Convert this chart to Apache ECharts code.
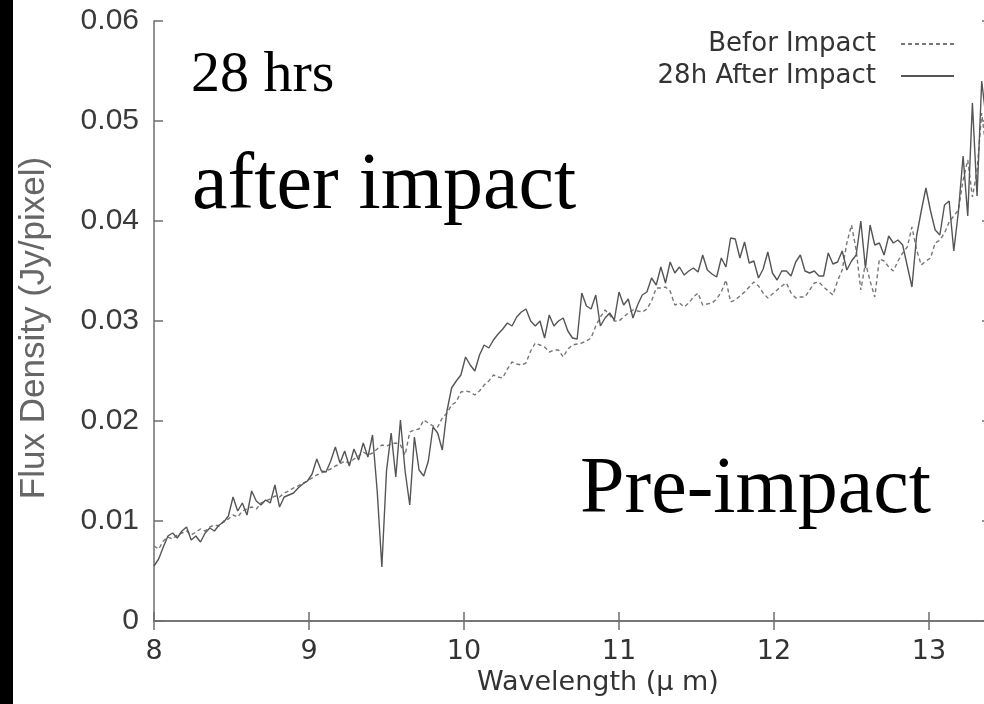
<!DOCTYPE html>
<html>
<head>
<meta charset="utf-8">
<script src="https://cdn.jsdelivr.net/npm/echarts@6/dist/echarts.min.js"></script>
<style>
html,body{margin:0;padding:0;background:#fff;}
#chart{width:984px;height:704px;}
</style>
</head>
<body>
<div id="chart"></div>
<script>
const wavelength = [8.00,8.03,8.06,8.09,8.12,8.15,8.18,8.21,8.24,8.27,8.30,8.33,8.36,8.39,8.42,8.45,8.48,8.51,8.54,8.57,
8.60,8.63,8.66,8.69,8.72,8.75,8.78,8.81,8.84,8.87,8.90,8.93,8.96,8.99,9.02,9.05,9.08,9.11,9.14,9.17,
9.20,9.23,9.26,9.29,9.32,9.35,9.38,9.41,9.44,9.47,9.50,9.53,9.56,9.59,9.62,9.65,9.68,9.71,9.74,9.77,
9.80,9.83,9.86,9.89,9.92,9.95,9.98,10.01,10.04,10.07,10.10,10.13,10.16,10.19,10.22,10.25,10.28,10.31,10.34,10.37,
10.40,10.43,10.46,10.49,10.52,10.55,10.58,10.61,10.64,10.67,10.70,10.73,10.76,10.79,10.82,10.85,10.88,10.91,10.94,10.97,
11.00,11.03,11.06,11.09,11.12,11.15,11.18,11.21,11.24,11.27,11.30,11.33,11.36,11.39,11.42,11.45,11.48,11.51,11.54,11.57,
11.60,11.63,11.66,11.69,11.72,11.75,11.78,11.81,11.84,11.87,11.90,11.93,11.96,11.99,12.02,12.05,12.08,12.11,12.14,12.17,
12.20,12.23,12.26,12.29,12.32,12.35,12.38,12.41,12.44,12.47,12.50,12.53,12.56,12.59,12.62,12.65,12.68,12.71,12.74,12.77,
12.80,12.83,12.86,12.89,12.92,12.95,12.98,13.01,13.04,13.07,13.10,13.13,13.16,13.19,13.22,13.25,13.28,13.31,13.34,13.37,
13.40];

const afterImpact = [0.0055,0.0062,0.0074,0.0085,0.0088,0.0083,0.0090,0.0094,0.0081,0.0085,0.0079,0.0088,0.0093,0.0090,0.0096,0.0099,0.0105,0.0124,0.0110,0.0118,
0.0106,0.0130,0.0120,0.0116,0.0121,0.0118,0.0136,0.0114,0.0124,0.0126,0.0128,0.0133,0.0137,0.0140,0.0147,0.0162,0.0150,0.0149,0.0160,0.0174,
0.0158,0.0170,0.0155,0.0172,0.0161,0.0178,0.0164,0.0186,0.0130,0.0054,0.0150,0.0188,0.0144,0.0201,0.0150,0.0116,0.0184,0.0151,0.0145,0.0160,
0.0194,0.0188,0.0171,0.0210,0.0233,0.0240,0.0246,0.0264,0.0256,0.0250,0.0266,0.0276,0.0273,0.0281,0.0287,0.0292,0.0298,0.0295,0.0304,0.0309,
0.0312,0.0300,0.0295,0.0300,0.0283,0.0306,0.0295,0.0300,0.0303,0.0290,0.0283,0.0282,0.0328,0.0315,0.0312,0.0326,0.0295,0.0303,0.0308,0.0301,
0.0329,0.0316,0.0322,0.0303,0.0316,0.0326,0.0329,0.0343,0.0336,0.0354,0.0338,0.0359,0.0348,0.0354,0.0346,0.0350,0.0353,0.0349,0.0366,0.0351,
0.0347,0.0344,0.0363,0.0354,0.0383,0.0382,0.0363,0.0379,0.0358,0.0360,0.0343,0.0352,0.0369,0.0348,0.0341,0.0350,0.0350,0.0345,0.0359,0.0366,
0.0350,0.0348,0.0350,0.0345,0.0345,0.0368,0.0357,0.0359,0.0370,0.0351,0.0360,0.0366,0.0400,0.0353,0.0396,0.0376,0.0378,0.0366,0.0385,0.0378,
0.0381,0.0376,0.0355,0.0334,0.0385,0.0410,0.0433,0.0410,0.0391,0.0386,0.0416,0.0420,0.0370,0.0410,0.0465,0.0405,0.0518,0.0425,0.0540,0.0500,
0.0520];

const beforeImpact = [0.0075,0.0072,0.0080,0.0084,0.0082,0.0086,0.0088,0.0090,0.0086,0.0089,0.0092,0.0090,0.0094,0.0096,0.0095,0.0100,0.0102,0.0106,0.0104,0.0110,
0.0112,0.0114,0.0112,0.0118,0.0120,0.0122,0.0125,0.0124,0.0128,0.0130,0.0133,0.0135,0.0138,0.0140,0.0143,0.0146,0.0148,0.0150,0.0152,0.0155,
0.0157,0.0160,0.0158,0.0162,0.0165,0.0169,0.0166,0.0168,0.0172,0.0176,0.0175,0.0177,0.0178,0.0176,0.0166,0.0189,0.0191,0.0192,0.0201,0.0198,
0.0195,0.0194,0.0203,0.0208,0.0216,0.0219,0.0229,0.0230,0.0229,0.0226,0.0230,0.0236,0.0240,0.0246,0.0244,0.0243,0.0252,0.0259,0.0257,0.0256,
0.0258,0.0270,0.0278,0.0276,0.0274,0.0269,0.0271,0.0271,0.0264,0.0272,0.0276,0.0277,0.0278,0.0280,0.0283,0.0295,0.0304,0.0311,0.0306,0.0300,
0.0300,0.0304,0.0308,0.0311,0.0310,0.0309,0.0312,0.0320,0.0333,0.0333,0.0334,0.0330,0.0316,0.0318,0.0314,0.0318,0.0324,0.0328,0.0316,0.0317,
0.0318,0.0322,0.0329,0.0341,0.0319,0.0321,0.0325,0.0329,0.0334,0.0339,0.0335,0.0328,0.0323,0.0327,0.0331,0.0335,0.0338,0.0328,0.0323,0.0324,
0.0324,0.0331,0.0338,0.0339,0.0334,0.0330,0.0326,0.0340,0.0351,0.0378,0.0396,0.0371,0.0331,0.0358,0.0340,0.0324,0.0362,0.0360,0.0354,0.0350,
0.0360,0.0368,0.0374,0.0394,0.0371,0.0356,0.0360,0.0363,0.0378,0.0381,0.0388,0.0399,0.0405,0.0411,0.0441,0.0461,0.0424,0.0450,0.0508,0.0470,
0.0500];

const seriesNames = ['Befor Impact', '28h After Impact'];
const yTicks = [0, 0.01, 0.02, 0.03, 0.04, 0.05, 0.06];
const xTicks = [8, 9, 10, 11, 12, 13];
const annotations = ['28 hrs', 'after impact', 'Pre-impact'];
const xAxisTitle = 'Wavelength (\u03bc m)';
const yAxisTitle = 'Flux Density (Jy/pixel)';

const toPairs = (xs, ys) => xs.map((x, i) => [x, ys[i]]);

const axisColor = '#6e6e6e';
const chart = echarts.init(document.getElementById('chart'), null, {renderer: 'canvas'});

const baseX = {
  type: 'value', min: xTicks[0], max: 13.4, interval: 1,
  axisLine: {show: true, lineStyle: {color: axisColor, width: 1.5}},
  axisTick: {show: true, inside: true, length: 9, lineStyle: {color: axisColor, width: 1.5}},
  splitLine: {show: false}
};
const baseY = {
  type: 'value', min: yTicks[0], max: yTicks[yTicks.length - 1], interval: 0.01,
  axisLine: {show: true, lineStyle: {color: axisColor, width: 1.5}},
  axisTick: {show: true, inside: true, length: 9, lineStyle: {color: axisColor, width: 1.5}},
  splitLine: {show: false}
};

chart.setOption({
  animation: false,
  backgroundColor: '#ffffff',
  grid: {left: 154, top: 21, right: -7, bottom: 83, containLabel: false, outerBoundsMode: 'none'},
  legend: {
    data: seriesNames,
    orient: 'vertical',
    align: 'right',
    right: 29,
    top: 31,
    padding: 0,
    itemGap: 6,
    itemWidth: 53,
    itemHeight: 14,
    itemStyle: {opacity: 0},
    textStyle: {fontFamily: '"Comic Sans MS", "DejaVu Sans", sans-serif', fontSize: 26, color: '#333', padding: [0, 20, 0, 0]}
  },
  xAxis: [
    Object.assign({}, baseX, {
      position: 'bottom',
      axisLabel: {show: true, margin: 17, fontFamily: '"Comic Sans MS", "DejaVu Sans", sans-serif', fontSize: 27, color: '#333',
        formatter: v => (Number.isInteger(v) ? String(v) : '')}
    }),
    Object.assign({}, baseX, {position: 'top', axisLabel: {show: false}})
  ],
  yAxis: [
    Object.assign({}, baseY, {
      position: 'left',
      axisLabel: {show: true, margin: 15, fontFamily: '"Liberation Sans", Arial, sans-serif', fontSize: 30, color: '#3a3a3a',
        formatter: v => (v === 0 ? '0' : v.toFixed(2))}
    }),
    Object.assign({}, baseY, {position: 'right', axisLabel: {show: false}})
  ],
  graphic: [
    {type: 'rect', left: 0, top: 0, shape: {width: 13, height: 704}, style: {fill: '#000'}, z: 100},
    {type: 'text', x: 34, y: 328, rotation: Math.PI / 2,
      style: {text: yAxisTitle, fill: '#666', font: '35px "Liberation Sans", Arial, sans-serif', textAlign: 'center', textVerticalAlign: 'middle'}},
    {type: 'text', x: 477, y: 683, style: {text: xAxisTitle, fill: '#333', font: '27px "Comic Sans MS", "DejaVu Sans", sans-serif', textAlign: 'left', textVerticalAlign: 'middle'}},
    {type: 'text', x: 191, y: 76, style: {text: annotations[0], fill: '#000', font: '58px "Liberation Serif", "Times New Roman", serif', textAlign: 'left', textVerticalAlign: 'middle'}},
    {type: 'text', x: 192, y: 187, style: {text: annotations[1], fill: '#000', font: '80px "Liberation Serif", "Times New Roman", serif', textAlign: 'left', textVerticalAlign: 'middle'}},
    {type: 'text', x: 580, y: 491, style: {text: annotations[2], fill: '#000', font: '80px "Liberation Serif", "Times New Roman", serif', textAlign: 'left', textVerticalAlign: 'middle'}}
  ],
  series: [
    {
      name: seriesNames[0], type: 'line', xAxisIndex: 0, yAxisIndex: 0,
      data: toPairs(wavelength, beforeImpact),
      showSymbol: false, symbol: 'none', smooth: false, z: 2,
      lineStyle: {color: '#777', width: 1.4, type: [4, 3]},
      itemStyle: {color: '#777'}
    },
    {
      name: seriesNames[1], type: 'line', xAxisIndex: 0, yAxisIndex: 0,
      data: toPairs(wavelength, afterImpact),
      showSymbol: false, symbol: 'none', smooth: false, z: 3,
      lineStyle: {color: '#555', width: 1.4, type: 'solid'},
      itemStyle: {color: '#555'}
    }
  ]
});
</script>
</body>
</html>
